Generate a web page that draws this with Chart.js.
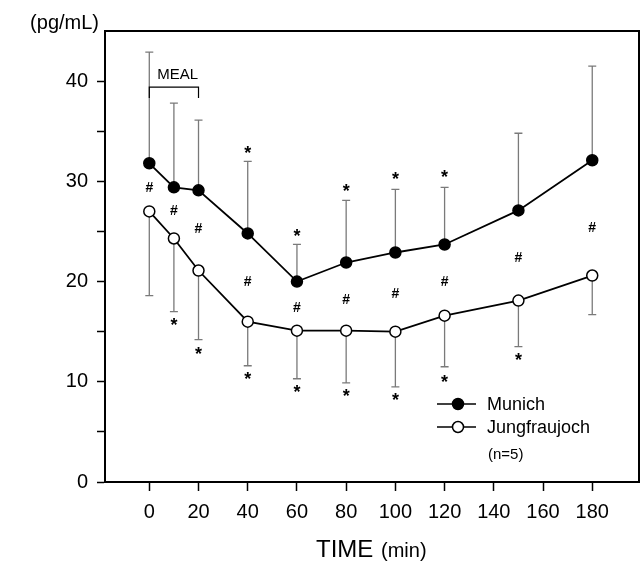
<!DOCTYPE html>
<html>
<head>
<meta charset="utf-8">
<script src="https://cdn.jsdelivr.net/npm/chart.js@4"></script>
<style>
html, body { margin: 0; padding: 0; background: #fff; overflow: hidden; }
canvas { display: block; }
</style>
</head>
<body>
<canvas id="chart" width="641" height="563"></canvas>
<script>
// sampling times (min)
const times = [0, 10, 20, 40, 60, 80, 100, 120, 150, 180];
// mean values (pg/mL) and the one-sided error bar ends
const munich = [31.8, 29.4, 29.1, 24.8, 20.0, 21.9, 22.9, 23.7, 27.1, 32.1];
const munichUpper = [42.9, 37.8, 36.1, 32.0, 23.7, 28.1, 29.2, 29.4, 34.8, 41.5];
const jungfrau = [27.0, 24.3, 21.1, 16.0, 15.1, 15.1, 15.0, 16.6, 18.1, 20.6];
const jungfrauLower = [18.6, 17.0, 14.2, 11.6, 10.3, 9.9, 9.5, 11.5, 13.5, 16.7];

// significance marks
const munichStarTimes = [40, 60, 80, 100, 120];
const munichStarLevels = [33.2, 24.9, 29.4, 30.6, 30.8];
const jungStarTimes = [10, 20, 40, 60, 80, 100, 120, 150];
const jungStarLevels = [16.0, 13.1, 10.6, 9.3, 8.9, 8.5, 10.3, 12.5];
const hashTimes = [0, 10, 20, 40, 60, 80, 100, 120, 150, 180];
const hashLevels = [29.4, 27.1, 25.3, 20.1, 17.5, 18.3, 18.9, 20.1, 22.5, 25.4];

// meal bracket
const mealStart = 0, mealEnd = 20, mealLevel = 39.4, mealLabel = "MEAL";

const xTicks = [0, 20, 40, 60, 80, 100, 120, 140, 160, 180];
const yTicks = [0, 5, 10, 15, 20, 25, 30, 35, 40];

const FONT = "'Liberation Sans', Arial, sans-serif";

function toPoints(vals){
	return vals.map((v, i) => ({x: times[i], y: v}));
}

function centerText(ctx, txt, px, py){
	let m = ctx.measureText(txt);
	ctx.fillText(txt, px, py + (m.actualBoundingBoxAscent - m.actualBoundingBoxDescent) / 2);
}

const extras = {
	id: "extras",
	beforeDatasetsDraw(chart){
		const ctx = chart.ctx, x = chart.scales.x, y = chart.scales.y;
		ctx.save();
		ctx.strokeStyle = "#7a7a7a";
		ctx.lineWidth = 1.3;
		const bar = (t, from, to) => {
			let px = x.getPixelForValue(t);
			let y0 = y.getPixelForValue(from), y1 = y.getPixelForValue(to);
			ctx.beginPath();
			ctx.moveTo(px, y0); ctx.lineTo(px, y1);
			ctx.moveTo(px - 4, y1); ctx.lineTo(px + 4, y1);
			ctx.stroke();
		};
		for(let i = 0; i < times.length; i++){
			bar(times[i], munich[i], munichUpper[i]);
			bar(times[i], jungfrau[i], jungfrauLower[i]);
		}
		ctx.restore();
	},
	afterDraw(chart){
		const ctx = chart.ctx, a = chart.chartArea, x = chart.scales.x, y = chart.scales.y;
		ctx.save();
		// top and right frame
		ctx.strokeStyle = "#000";
		ctx.lineWidth = 2;
		ctx.beginPath();
		ctx.moveTo(a.left, a.top); ctx.lineTo(a.right, a.top); ctx.lineTo(a.right, a.bottom);
		ctx.stroke();

		ctx.fillStyle = "#000";
		ctx.textAlign = "center";
		ctx.textBaseline = "alphabetic";
		// stars
		ctx.font = "bold 18px " + FONT;
		for(let i = 0; i < munichStarTimes.length; i++)
			centerText(ctx, "*", x.getPixelForValue(munichStarTimes[i]), y.getPixelForValue(munichStarLevels[i]));
		for(let i = 0; i < jungStarTimes.length; i++)
			centerText(ctx, "*", x.getPixelForValue(jungStarTimes[i]), y.getPixelForValue(jungStarLevels[i]));
		// hashes
		ctx.font = "bold 14px " + FONT;
		for(let i = 0; i < hashTimes.length; i++)
			centerText(ctx, "#", x.getPixelForValue(hashTimes[i]), y.getPixelForValue(hashLevels[i]));

		// meal bracket
		let m0 = x.getPixelForValue(mealStart), m1 = x.getPixelForValue(mealEnd), my = y.getPixelForValue(mealLevel);
		ctx.lineWidth = 1.2;
		ctx.beginPath();
		ctx.moveTo(m0, my + 11); ctx.lineTo(m0, my); ctx.lineTo(m1, my); ctx.lineTo(m1, my + 11);
		ctx.stroke();
		ctx.font = "15px " + FONT;
		ctx.textAlign = "left";
		ctx.fillText(mealLabel, m0 + 8, my - 8);

		// legend
		const ds = chart.data.datasets;
		const rows = [404, 427];
		ctx.font = "18px " + FONT;
		for(let i = 0; i < ds.length; i++){
			let ly = rows[i];
			ctx.strokeStyle = "#000";
			ctx.lineWidth = 1.5;
			ctx.beginPath(); ctx.moveTo(437, ly); ctx.lineTo(476, ly); ctx.stroke();
			ctx.beginPath(); ctx.arc(458, ly, 5.5, 0, Math.PI * 2);
			ctx.fillStyle = ds[i].pointBackgroundColor;
			ctx.fill(); ctx.stroke();
			ctx.fillStyle = "#000";
			ctx.textBaseline = "middle";
			ctx.fillText(ds[i].label, 487, ly + 1);
		}
		ctx.font = "15px " + FONT;
		ctx.fillText("(n=5)", 488, 455);

		// y unit
		ctx.font = "20px " + FONT;
		ctx.textAlign = "right";
		ctx.fillText("(pg/mL)", 99, 23);

		// x title
		ctx.textBaseline = "alphabetic";
		ctx.textAlign = "left";
		ctx.font = "24px " + FONT;
		ctx.fillText("TIME", 316, 557);
		ctx.font = "20px " + FONT;
		ctx.fillText("(min)", 381, 557);
		ctx.restore();
	}
};

let ctx = document.getElementById("chart").getContext("2d");
let chart = new Chart(ctx, {
	type: "line",
	data: {
		datasets: [
			{
				label: "Munich",
				data: toPoints(munich),
				borderColor: "#000",
				borderWidth: 1.8,
				pointRadius: 5.5,
				pointBorderWidth: 1.5,
				pointBackgroundColor: "#000",
				pointBorderColor: "#000",
				fill: false,
				tension: 0
			},
			{
				label: "Jungfraujoch",
				data: toPoints(jungfrau),
				borderColor: "#000",
				borderWidth: 1.8,
				pointRadius: 5.5,
				pointBorderWidth: 1.5,
				pointBackgroundColor: "#fff",
				pointBorderColor: "#000",
				fill: false,
				tension: 0
			}
		]
	},
	options: {
		responsive: false,
		animation: false,
		layout: {autoPadding: false, padding: {top: 31, right: 2, left: 0, bottom: 0}},
		plugins: {legend: {display: false}, tooltip: {enabled: false}},
		scales: {
			x: {
				type: "linear",
				min: -18,
				max: 199,
				afterBuildTicks: s => { s.ticks = xTicks.map(v => ({value: v})); },
				afterFit: s => { s.height = 81; s.paddingLeft = 0; s.paddingRight = 0; },
				grid: {drawOnChartArea: false, tickLength: 9, tickColor: "#000", tickWidth: 1.5},
				border: {color: "#000", width: 2},
				ticks: {color: "#000", font: {family: FONT, size: 20}, padding: 9, maxRotation: 0, autoSkip: false}
			},
			y: {
				min: 0,
				max: 45,
				afterBuildTicks: s => { s.ticks = yTicks.map(v => ({value: v})); },
				afterFit: s => { s.width = 105; },
				grid: {drawOnChartArea: false, tickLength: 8, tickColor: "#000", tickWidth: 1.5},
				border: {color: "#000", width: 2},
				ticks: {color: "#000", font: {family: FONT, size: 20}, padding: 9, autoSkip: false,
					callback: v => v % 10 === 0 ? v : ""}
			}
		}
	},
	plugins: [extras]
});
</script>
</body>
</html>
